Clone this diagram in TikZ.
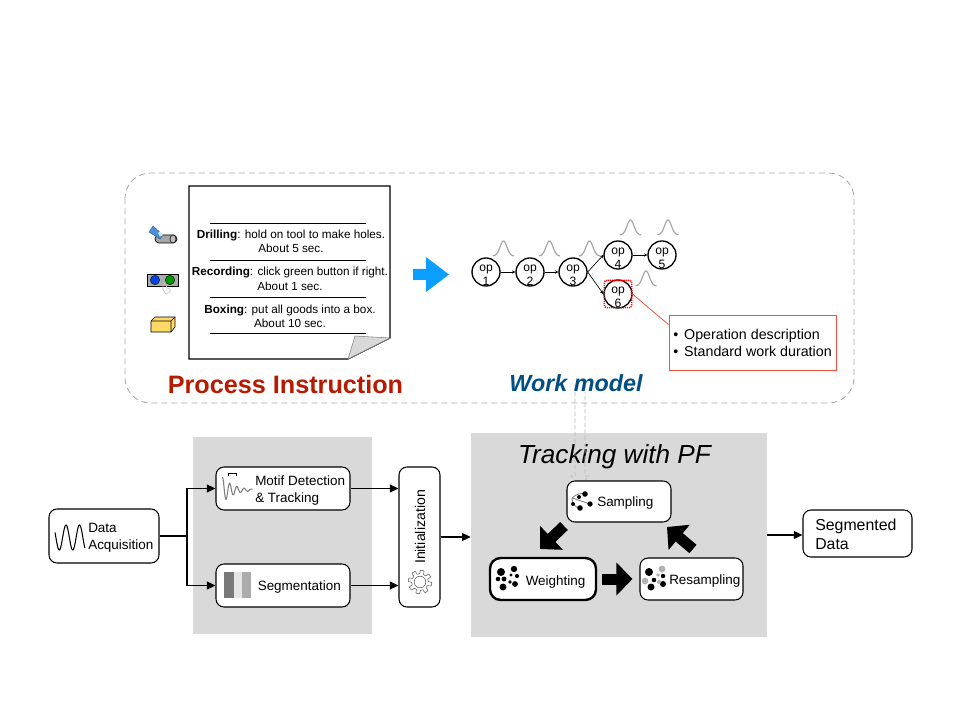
\documentclass[tikz,border=0pt]{standalone}
\usepackage{fontspec}
\setmainfont{Liberation Sans}
\usetikzlibrary{arrows.meta}
\definecolor{panelgray}{HTML}{D9D9D9}
\definecolor{dashgray}{HTML}{A6A6A6}
\definecolor{titlered}{HTML}{B81A00}
\definecolor{titleblue}{HTML}{004F84}
\definecolor{arrowblue}{HTML}{0A9EFF}
\definecolor{boxred}{HTML}{F4513A}
\definecolor{boxyellow}{HTML}{FFD966}
\definecolor{drillblue}{HTML}{4A90D9}
\newcommand{\optext}[1]{\raisebox{-5.3pt}[0pt][0pt]{\begin{tabular}{@{}c@{}}op\\[0.2pt]#1\end{tabular}}}
\tikzset{
    panel/.style={fill=panelgray, draw=none, inner sep=0pt},
    procbox/.style={draw, fill=white, rounded corners=6pt, line width=0.8pt, inner sep=0pt},
    boxlabel/.style={inner sep=0pt, align=left, font=\fontsize{10.1}{12.7}\selectfont},
    steplabel/.style={inner sep=0pt, font=\fontsize{8.8}{10.8}\selectfont, align=center},
    opnode/.style={draw, circle, fill=white, line width=1pt, minimum size=21pt, inner sep=0pt, font=\fontsize{9.1}{10}\selectfont},
    flow/.style={-{Triangle[length=6.5pt,width=6pt]}, line width=0.9pt},
    opflow/.style={-{Stealth[length=2.5pt,width=2.5pt]}, line width=0.5pt},
    blockarrow/.style={-{Triangle[length=12pt,width=24pt]}, line width=8.25pt},
    bell/.pic={\draw[gray!70, line width=0.9pt, domain=-10.5:10.5, samples=40] plot (\x, {-15*exp(-\x*\x/24)});}
}
\begin{document}
\begin{tikzpicture}[x=0.75pt, y=-0.75pt]
\useasboundingbox (0,0) rectangle (960,720);

% Gray panels
\node[panel, minimum width=134.25pt, minimum height=147.75pt] (prepanel) at (282.5,535.5) {};
\node[panel, minimum width=222pt, minimum height=153pt] (pfpanel) at (619,535) {};

% Instruction frame
\draw[dashgray, dashed, dash pattern=on 4.5pt off 3pt, line width=0.6pt, rounded corners=19pt] (125,173) rectangle (854,403);

% Document sheet
\draw[fill=white, line width=1pt] (189,186) -- (390,186) -- (390,338) -- (348,359) -- (189,359) -- cycle;
\draw[fill=panelgray, line width=0.4pt, draw=gray] (348,359) -- (355,336) -- (390,338) -- cycle;
\foreach \y in {223,260,297,333} {
    \draw[line width=0.6pt] (210,\y) -- (366,\y);
}
\node[steplabel] (drilling) at (291,241.5) {\textbf{Drilling}: hold on tool to make holes.\\About 5 sec.};
\node[steplabel] (recording) at (290,279) {\textbf{Recording}: click green button if right.\\About 1 sec.};
\node[steplabel] (boxing) at (290,316.5) {\textbf{Boxing}: put all goods into a box.\\About 10 sec.};

% Drill icon
\draw[fill=gray!70, line width=0.5pt, rounded corners=3pt] (155,235) rectangle (177,243);
\draw[fill=gray!50, line width=0.4pt] (173,239) ellipse (3 and 4);
\draw[fill=drillblue, draw=drillblue!60!black, line width=0.3pt] (149,232) -- (153,226) -- (163,235) -- (160,239) -- cycle;
\fill[white!80!drillblue] (158,233) -- (160,231.5) -- (163,235) -- (160,236.5) -- cycle;

% Button icon
\draw[fill=gray!65, line width=0.5pt] (147,274) rectangle (178,286);
\draw[fill=blue!70!cyan!90!black, line width=0.3pt] (155,280) circle (4.7);
\draw[fill=green!60!black, line width=0.3pt] (170,280) circle (4.7);
\draw[gray!50, line width=0.4pt] (163,290) -- (163,285) .. controls (164,283) and (165,283) .. (166,285) -- (167,288) -- (170,289) -- (170,292) -- (166,294) -- cycle;

% Box icon
\draw[fill=boxyellow, line width=0.5pt] (151,321) -- (155,317) -- (175,317) -- (175,327) -- (171,332) -- (151,332) -- cycle;
\draw[line width=0.5pt] (151,321) -- (171,321) -- (175,317) (171,321) -- (171,332);

% Titles
\node[font=\fontsize{18.9}{20}\selectfont\bfseries, text=titlered, inner sep=0pt] (processtitle) at (285.5,384) {Process Instruction};
\node[font=\fontsize{17.5}{20}\selectfont\bfseries\itshape, text=titleblue, inner sep=0pt] (worktitle) at (576,383) {Work model};
\node[font=\fontsize{19.6}{22}\selectfont\itshape, inner sep=0pt] (pftitle) at (614.5,457) {Tracking with PF};

% Blue arrow
\fill[arrowblue] (413,269) -- (426,269) -- (426,257) -- (449,274.5) -- (426,292) -- (426,280) -- (413,280) -- cycle;

% Work model graph
\node[opnode] (op1) at (486,272) {\optext{1}};
\node[opnode] (op2) at (530,272) {\optext{2}};
\node[opnode] (op3) at (573,272) {\optext{3}};
\node[opnode] (op4) at (618,255) {\optext{4}};
\node[opnode] (op5) at (662,255) {\optext{5}};
\node[opnode] (op6) at (618,294) {\optext{6}};
\node[draw=red, dash pattern=on 0.8pt off 0.7pt, line width=1.1pt, rounded corners=2pt, minimum size=20.5pt, inner sep=0pt] (op6mark) at (618,294) {};
\draw[opflow] (op1) -- (op2);
\draw[opflow] (op2) -- (op3);
\draw[opflow] (op3.east) -- (op4.west);
\draw[opflow] (op3.east) -- (op6.west);
\draw[opflow] (op4) -- (op5);

% Duration curves
\foreach \px/\py in {503.5/256, 549.5/256, 589.5/256, 630.5/235, 668/235, 646/286} {
    \pic at (\px,\py) {bell};
}

% Operation details
\node[draw=boxred, line width=0.7pt, fill=white, minimum width=125.25pt, minimum height=41.25pt, inner sep=0pt, align=left, font=\fontsize{10.7}{12.8}\selectfont] (descbox) at (752.5,342.5)
    {\makebox[8.2pt][l]{\textbullet}Operation description\\\makebox[8.2pt][l]{\textbullet}Standard work duration};
\draw[boxred, line width=0.6pt] (op6mark.east) -- (descbox.168);

% Link down to sampling
\draw[gray!55, dashed, dash pattern=on 3pt off 2pt, line width=0.5pt] (575,392) -- (575,476) -- (571,476) -- (580,485) -- (589,476) -- (585,476) -- (585,392);

% Pipeline boxes
\node[procbox, minimum width=82.5pt, minimum height=40.5pt] (acq) at (104,536) {};
\node[procbox, minimum width=100.5pt, minimum height=32.25pt] (motif) at (283,488.5) {};
\node[procbox, minimum width=100.5pt, minimum height=32.25pt] (seg) at (283,585.5) {};
\node[procbox, minimum width=30.75pt, minimum height=105pt] (init) at (419.5,537) {};
\node[procbox, minimum width=78pt, minimum height=30.75pt] (sampling) at (619,501.5) {};
\node[procbox, line width=1.8pt, rounded corners=8pt, minimum width=79.5pt, minimum height=31.5pt] (weighting) at (543,579) {};
\node[procbox, minimum width=77.25pt, minimum height=31.5pt] (resampling) at (691.5,579) {};
\node[procbox, minimum width=81.75pt, minimum height=35.25pt] (segdata) at (857.5,533.5) {};

% Box labels
\node[boxlabel, anchor=west] (acqlabel) at (88,538) {Data\\Acquisition};
\node[boxlabel, anchor=west] (motiflabel) at (255,490.5) {Motif Detection\\\& Tracking};
\node[boxlabel, anchor=west] (seglabel) at (257.5,587) {Segmentation};
\node[boxlabel, rotate=90, font=\fontsize{10.6}{12}\selectfont] (initlabel) at (420,527) {Initialization};
\node[boxlabel, anchor=west] (samplinglabel) at (597,503) {Sampling};
\node[boxlabel, anchor=west] (weightinglabel) at (525.5,582) {Weighting};
\node[boxlabel, anchor=west] (resamplinglabel) at (669,581.5) {Resampling};
\node[boxlabel, anchor=west, font=\fontsize{11.9}{14}\selectfont] (segdatalabel) at (815,534.5) {Segmented\\Data};

% Box icons
\draw[line width=0.8pt, domain=0:30, samples=90] plot (55+\x, {537.5-12.5*cos(26.7*(\x-11))});
\draw[gray, line width=0.8pt, domain=0:30, samples=120] plot (222.5+\x, {490-13*exp(-\x/11)*cos(50*\x)});
\draw[line width=0.7pt] (228,476) -- (228,473) -- (236,473) -- (236,476);
\fill[gray!95!black] (224,572) rectangle (234,598);
\fill[gray!20] (234,572) rectangle (242,598);
\fill[gray!65] (242,572) rectangle (251,598);
\draw[gray!70!black, line width=0.4pt, domain=0:360, samples=193] plot ({420+(10+1.8*max(-1,min(1,3*sin(8*\x))))*cos(\x)}, {582+(10+1.8*max(-1,min(1,3*sin(8*\x))))*sin(\x)}) -- cycle;
\draw[gray!70!black, line width=0.4pt] (420,582) circle (5.8);

% Particles
\draw[gray, line width=0.6pt] (572,498) .. controls (577,493) and (582,493) .. (585,494) (572,498) -- (590,504) (572,498) .. controls (572,504) and (576,508) .. (580,508);
\foreach \px/\py/\pr in {585/494/2.8, 579/497/2, 590/504/2.7, 573/504/2, 580/508/2.8} {
    \fill (\px,\py) circle (\pr);
}
\foreach \px/\py/\pr in {501/572/4, 514/569/3.2, 511/575/1.7, 517/576/2.1, 498/579/2.3, 504/579/2.4, 510/582/1.8, 515/584/2.9, 503/587/3.5} {
    \fill (\px,\py) circle (\pr);
}
\foreach \px/\py/\pr in {649/572/4, 651/587/3.5, 654/580/2.3, 663/576/2.2, 663/584/3} {
    \fill (\px,\py) circle (\pr);
}
\foreach \px/\py/\pr in {662/569/3.4, 645/581/3.4, 658/575/1.9, 659/582/2.1} {
    \fill[gray!60] (\px,\py) circle (\pr);
}

% Connectors
\coordinate (split) at (187,536);
\draw[line width=0.9pt] (acq.east) -- (split);
\draw[flow] (split) |- (motif.west);
\draw[flow] (split) |- (seg.west);
\draw[flow] (motif.east) -- (motif.east -| init.west);
\draw[flow] (seg.east) -- (seg.east -| init.west);
\draw[flow] (init.east) -- (init.east -| pfpanel.west);
\draw[flow] (pfpanel.east) -- (pfpanel.east -| segdata.west);

% Particle filter cycle
\coordinate (sampleout) at (564,526);
\coordinate (weightin) at (540,549);
\coordinate (resampleout) at (693,549);
\coordinate (samplein) at (667,527);
\draw[blockarrow] (sampleout) -- (weightin);
\draw[blockarrow, shorten >=5.25pt, shorten <=3.75pt] (weighting) -- (resampling);
\draw[blockarrow] (resampleout) -- (samplein);

\end{tikzpicture}
\end{document}
